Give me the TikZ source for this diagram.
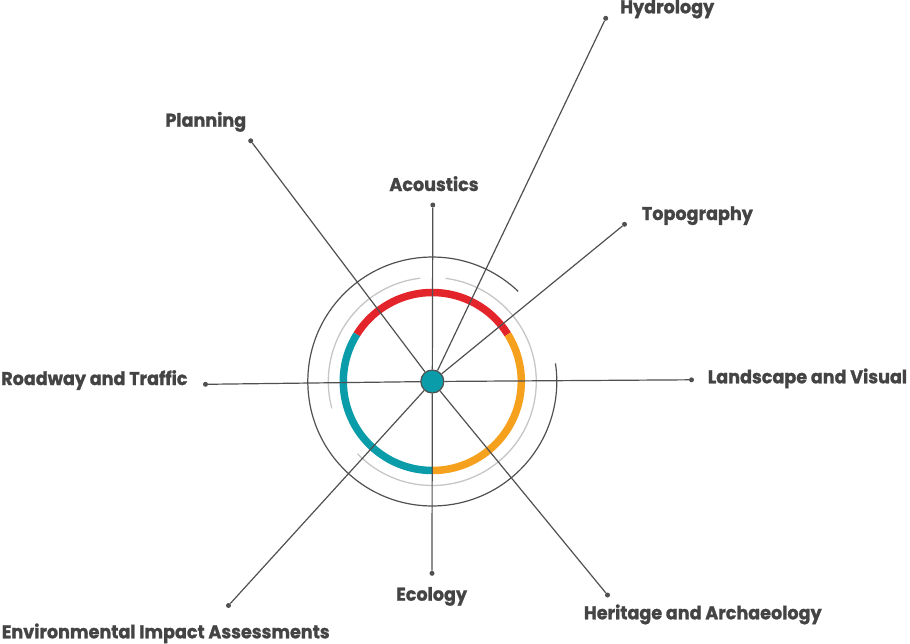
\documentclass[tikz,border=0pt]{standalone}
\usepackage{fontspec}
\setmainfont{Poppins}[FakeStretch=0.95, BoldFeatures={FakeBold=1.2}]
\usetikzlibrary{calc}
\definecolor{ringred}{HTML}{E3242B}
\definecolor{ringorange}{HTML}{F6A11E}
\definecolor{ringteal}{HTML}{0A9CA9}
\definecolor{lightring}{HTML}{C6C6C6}
\definecolor{darkline}{HTML}{505050}
\definecolor{labeltext}{HTML}{444444}
\tikzset{
  spoke/.style={draw=darkline, line width=1.2pt},
  enddot/.style={circle, fill=darkline, inner sep=0pt, minimum size=5pt},
  hub/.style={circle, fill=ringteal, draw=darkline, line width=1.2pt, inner sep=0pt, minimum size=23pt},
  lbl/.style={text=labeltext, font=\bfseries\fontsize{18.5}{21}\selectfont, inner sep=0pt},
  seg/.style={line width=7.5pt, line cap=butt},
}
\begin{document}
\begin{tikzpicture}[x=1pt,y=-1pt]
\useasboundingbox (0,0) rectangle (910,643);
\coordinate (o) at (432.3,381.5);
% outer dark ring
\draw[darkline, line width=1.2pt] ($(o)+(-46.4:124.5)$) arc[start angle=-46.4, end angle=-368.4, radius=124.5];
% light gray ring
\draw[lightring, line width=1.3pt] ($(o)+(-96.6:104)$) arc[start angle=-96.6, end angle=-195, radius=104];
\draw[lightring, line width=1.3pt] ($(o)+(-224:104)$) arc[start angle=-224, end angle=-442.7, radius=104];
% coloured ring
\draw[seg, ringred] ($(o)+(-32:89)$) arc[start angle=-32, end angle=-148, radius=89];
\draw[seg, ringorange] ($(o)+(90:89)$) arc[start angle=90, end angle=-32, radius=89];
\draw[seg, ringteal] ($(o)+(-148:89)$) arc[start angle=-148, end angle=-270, radius=89];
% hub and end dots
\node[hub] (c) at (o) {};
\node[enddot] (pHyd) at (605.7,18.3) {};
\node[enddot] (pPla) at (250.7,140.8) {};
\node[enddot] (pAco) at (432.8,205) {};
\node[enddot] (pTop) at (624.5,224.3) {};
\node[enddot] (pRoa) at (205.5,384.3) {};
\node[enddot] (pLan) at (691.5,379.8) {};
\node[enddot] (pEnv) at (228.5,605.5) {};
\node[enddot] (pEco) at (432,573.3) {};
\node[enddot] (pHer) at (607.5,595) {};
% spokes
\foreach \p in {pHyd,pPla,pAco,pTop,pRoa,pLan,pEnv,pEco,pHer}
  \draw[spoke] (c) -- (\p);
% labels
\node[lbl, anchor=base west] (tHyd) at (620,13.3) {Hydrology};
\node[lbl, anchor=base] (tPla) at (205.8,126.7) {Planning};
\node[lbl, anchor=base] (tAco) at (434,191) {Acoustics};
\node[lbl, anchor=base west] (tTop) at (641.7,220) {Topography};
\node[lbl, anchor=base east] (tRoa) at (187.7,385) {Roadway and Traffic};
\node[lbl, anchor=base west] (tLan) at (707.7,383.3) {Landscape and Visual};
\node[lbl, anchor=base west] (tEnv) at (1.7,638.3) {Environmental Impact Assessments};
\node[lbl, anchor=base] (tEco) at (431.7,600.7) {Ecology};
\node[lbl, anchor=base] (tHer) at (702.8,619.3) {Heritage and Archaeology};
\end{tikzpicture}
\end{document}
